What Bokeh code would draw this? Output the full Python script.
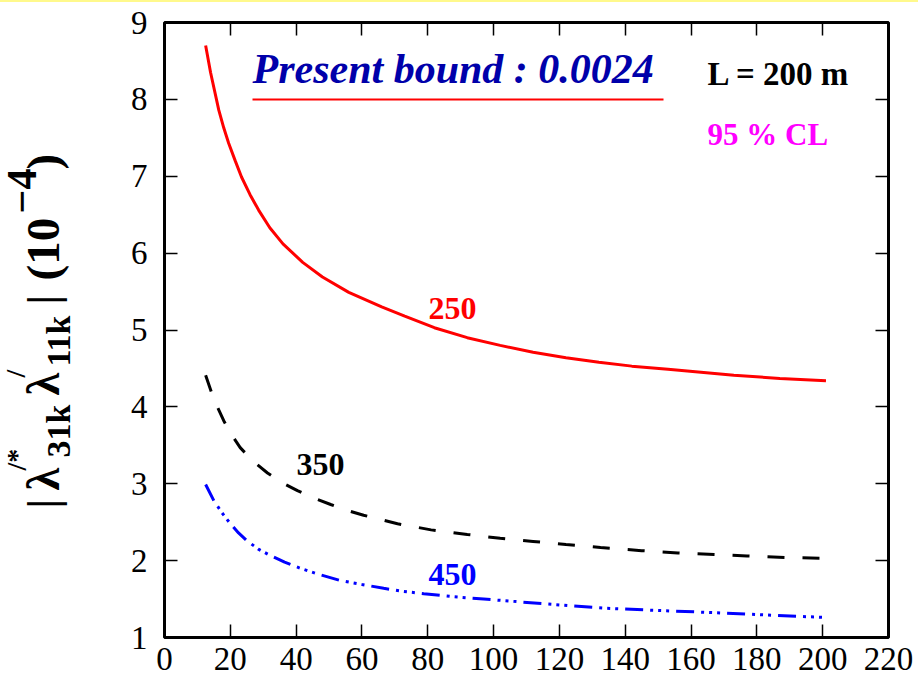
import math
from bokeh.plotting import figure
from bokeh.layouts import row
from bokeh.models import Range1d, LinearAxis, FixedTicker
from bokeh.embed import file_html
from bokeh.resources import INLINE
from bokeh.core.properties import value

# ---- data ----
x_250 = [12.5, 14, 16.5, 18, 19.5, 21.5, 23.4, 26, 28.6, 32, 36, 42, 48, 56, 66,
         73, 82, 92, 102, 112, 122, 132, 142, 153, 163, 173, 187, 201]
y_250 = [8.70, 8.35, 7.86, 7.63, 7.43, 7.20, 6.99, 6.76, 6.56, 6.33, 6.12, 5.88, 5.69,
         5.49, 5.30, 5.18, 5.03, 4.90, 4.80, 4.71, 4.64, 4.58, 4.53, 4.49, 4.45, 4.41,
         4.37, 4.34]

x_350 = [12.5, 15, 18, 20.5, 23, 27, 31.3, 35.5, 40.4, 45, 50.5, 55, 60.5, 70.8, 81,
         92, 102, 112, 122, 132.5, 145, 156, 167, 177, 189, 201]
y_350 = [4.41, 4.10, 3.82, 3.63, 3.47, 3.29, 3.14, 3.02, 2.91, 2.82, 2.73, 2.66, 2.59,
         2.48, 2.40, 2.34, 2.29, 2.25, 2.21, 2.17, 2.13, 2.10, 2.08, 2.06, 2.04, 2.03]

x_450 = [12.5, 15, 17.5, 20, 22.5, 25, 28.5, 32, 36.5, 41.3, 47, 53.5, 60, 66.6, 72.5,
         78.8, 88, 97, 106, 115, 124, 134, 148, 163, 182, 201]
y_450 = [2.99, 2.78, 2.62, 2.48, 2.36, 2.26, 2.15, 2.07, 1.98, 1.90, 1.82, 1.74, 1.69,
         1.64, 1.60, 1.57, 1.53, 1.50, 1.47, 1.44, 1.41, 1.38, 1.355, 1.33, 1.295, 1.26]

curve_names = ["250", "350", "450"]
x_ticks = [0, 20, 40, 60, 80, 100, 120, 140, 160, 180, 200, 220]
y_ticks = [1, 2, 3, 4, 5, 6, 7, 8, 9]

SERIF = "Liberation Serif"
W, H = 918, 682
LAB_W = 110                      # width of the strip holding the rotated y label
BASE_FIX = 0.35                  # renderer places the alphabetic baseline this many em low

# frame geometry (page pixels) used to place annotation texts
FL, FR, FT, FB = 164, 888, 22, 637


def dx(px):
    return (px - FL) / (FR - FL) * 220


def dy(py, size=0):
    return 9 - (py - BASE_FIX * size - FT) / (FB - FT) * 8


p = figure(width=W - LAB_W, height=H, output_backend="svg", toolbar_location=None,
           x_range=Range1d(0, 220), y_range=Range1d(1, 9),
           min_border_left=FL - LAB_W, min_border_right=W - FR, min_border_top=FT,
           min_border_bottom=H - FB)
p.background_fill_color = "white"
p.border_fill_alpha = 0
p.outline_line_color = "black"
p.outline_line_width = 3
p.xgrid.visible = False
p.ygrid.visible = False

for ax, ticks in ((p.xaxis[0], x_ticks), (p.yaxis[0], y_ticks)):
    ax.ticker = FixedTicker(ticks=ticks)
    ax.major_tick_in = 13
    ax.major_tick_out = 0
    ax.major_tick_line_width = 1.5
    ax.major_tick_line_color = "black"
    ax.minor_tick_line_color = None
    ax.axis_line_color = None
    ax.major_label_text_font = SERIF
    ax.major_label_text_font_size = "33px"
    ax.major_label_text_color = "black"
p.xaxis[0].major_label_standoff = 10
p.yaxis[0].major_label_standoff = 17

top_ax = LinearAxis(ticker=FixedTicker(ticks=x_ticks),
                    major_label_overrides={t: "" for t in x_ticks})
right_ax = LinearAxis(ticker=FixedTicker(ticks=y_ticks),
                      major_label_overrides={t: "" for t in y_ticks})
for ax in (top_ax, right_ax):
    ax.major_tick_in = 13
    ax.major_tick_out = 0
    ax.major_tick_line_width = 1.5
    ax.major_tick_line_color = "black"
    ax.minor_tick_line_color = None
    ax.axis_line_color = None
    ax.major_label_text_font_size = "1px"
    ax.major_label_standoff = 0
p.add_layout(top_ax, "above")
p.add_layout(right_ax, "right")

# curves
p.line(x_250, y_250, line_color="#ff0000", line_width=3)
p.line(x_350, y_350, line_color="black", line_width=3, line_dash="17 18")
p.line(x_450, y_450, line_color="#0000ff", line_width=3,
       line_dash="18 7 3 5 3 5 3 7")

# curve labels
p.text(x=[dx(428), dx(296), dx(428)], y=[dy(319, 32), dy(475, 32), dy(585, 32)],
       text=curve_names, text_color=["#ff0000", "black", "#0000ff"],
       text_font=value(SERIF), text_font_style="bold", text_font_size="32px",
       text_align="left", text_baseline="alphabetic")

# header texts
p.text(x=[dx(252)], y=[dy(83, 42)], text=["Present bound : 0.0024"],
       text_color="#0000aa", text_font=value(SERIF),
       text_font_style="bold italic", text_font_size="42px",
       text_align="left", text_baseline="alphabetic")
p.line([dx(252), dx(663)], [dy(99), dy(99)], line_color="#ff0000", line_width=2)
p.text(x=[dx(707)], y=[dy(85, 33)], text=["L = 200 m"], text_color="black",
       text_font=value(SERIF), text_font_style="bold", text_font_size="33px",
       text_align="left", text_baseline="alphabetic")
p.text(x=[dx(707)], y=[dy(145, 31)], text=["95 % CL"], text_color="#ff00ff",
       text_font=value(SERIF), text_font_style="bold", text_font_size="31px",
       text_align="left", text_baseline="alphabetic")

# rotated y-axis label, built from pieces in its own strip
# (text, font size px, baseline page x, start page y)
ylabel_pieces = [
    ("|", 44, 58, 508),
    ("λ", 46, 59, 490),
    ("/*", 28, 26, 470),
    ("31k", 34, 70, 457),
    ("λ", 46, 59, 395),
    ("/", 28, 25, 377),
    ("11k", 34, 70, 366),
    ("|", 44, 58, 304),
    ("(10", 47, 59, 280),
    ("−4", 42, 36, 213),
    (")", 47, 59, 169),
]
# the strip's frame is aligned with the main frame (page rows FT..FB)
lab = figure(width=LAB_W, height=H, output_backend="svg", toolbar_location=None,
             x_range=Range1d(0, LAB_W), y_range=Range1d(H - FB, H - FT),
             x_axis_type=None, y_axis_type=None, min_border=0)
lab.outline_line_color = None
lab.background_fill_alpha = 0
lab.border_fill_alpha = 0
lab.text(x=[px - BASE_FIX * s for _, s, px, _ in ylabel_pieces],
         y=[H - py for _, _, _, py in ylabel_pieces],
         text=[t for t, _, _, _ in ylabel_pieces],
         text_font_size=[f"{s}px" for _, s, _, _ in ylabel_pieces],
         angle=math.pi / 2, text_color="black", text_font=value(SERIF),
         text_font_style="bold", text_align="left", text_baseline="alphabetic")

layout = row(lab, p, spacing=0,
             styles={"background-color": "white",
                     "box-shadow": "inset 0 2px 0 #fff98c"})

open("out.html", "w").write(file_html(layout, INLINE))
